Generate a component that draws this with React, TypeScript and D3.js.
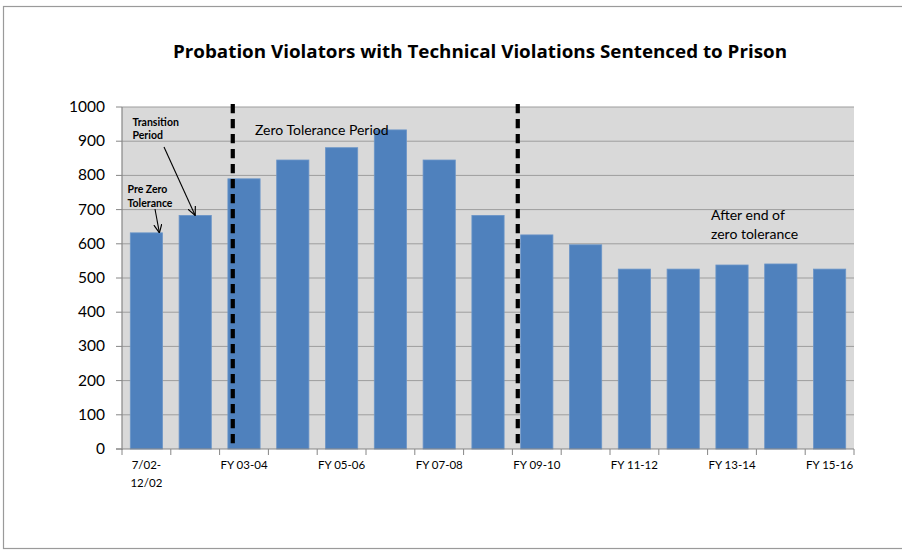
import React from "react";
import * as d3 from "d3";

const categories = [
  "7/02-12/02", "1/03-6/03", "FY 03-04", "FY 04-05", "FY 05-06", "FY 06-07",
  "FY 07-08", "FY 08-09", "FY 09-10", "FY 10-11", "FY 11-12", "FY 12-13",
  "FY 13-14", "FY 14-15", "FY 15-16",
];
const values = [632, 683, 790, 845, 881, 933, 845, 683, 626, 597, 526, 526, 538, 541, 526];
const shownLabels = ["7/02-12/02", "FY 03-04", "FY 05-06", "FY 07-08", "FY 09-10", "FY 11-12", "FY 13-14", "FY 15-16"];
const yTicks = [0, 100, 200, 300, 400, 500, 600, 700, 800, 900, 1000];
// period dividers, in category units (0 = left edge of first category)
const dividers = [2.27, 8.11];

const W = 902, H = 550;
const left = 122, right = 854, top = 107, bottom = 449;
const FONT = "Lato, 'Open Sans', sans-serif";

export default function App() {
  const x = d3.scaleBand<string>().domain(categories).range([left, right]).paddingInner(0.34).paddingOuter(0.17);
  const xu = d3.scaleLinear().domain([0, categories.length]).range([left, right]);
  const y = d3.scaleLinear().domain([0, 1000]).range([bottom, top]);

  const labelLines = (s: string) => (s.includes("/") ? s.replace("-", "-\n").split("\n") : [s]);

  return (
    <svg width={W} height={H} style={{ position: "absolute", left: 0, top: 0, background: "#fff" }} fontFamily={FONT}>
      <defs>
        <marker id="arr" viewBox="0 0 10 10" refX="9.5" refY="5" markerWidth="9" markerHeight="9" markerUnits="userSpaceOnUse" orient="auto">
          <path d="M0,0.5 L9.5,5 L0,9.5" fill="none" stroke="#000" strokeWidth={1.3} />
        </marker>
      </defs>
      <rect x={3.5} y={6.5} width={W + 10} height={542} fill="#fff" stroke="#9a9a9a" strokeWidth={1.2} />
      <text x={480} y={58} textAnchor="middle" fontSize={17} fontWeight="bold" fill="#000"
        fontFamily="'Open Sans', sans-serif" textLength={614} lengthAdjust="spacingAndGlyphs">
        Probation Violators with Technical Violations Sentenced to Prison
      </text>
      <rect x={left} y={top} width={right - left} height={bottom - top} fill="#d9d9d9" />
      {yTicks.map((t) => (
        <g key={t}>
          {t > 0 && <line x1={left} x2={right} y1={y(t)} y2={y(t)} stroke="#9d9d9d" strokeWidth={1} />}
          <line x1={left - 6} x2={left} y1={y(t)} y2={y(t)} stroke="#868686" strokeWidth={1} />
          <text x={105} y={y(t) + 5} textAnchor="end" fontSize={15.5} fill="#000">{t}</text>
        </g>
      ))}
      {categories.map((c, i) => (
        <rect key={c} x={x(c)} y={y(values[i])} width={x.bandwidth()} height={y(0) - y(values[i])}
          fill="#4f81bd" stroke="#6b95c8" strokeWidth={0.8} />
      ))}
      <line x1={left} x2={left} y1={top} y2={bottom + 1} stroke="#868686" strokeWidth={1.2} />
      <line x1={left - 6} x2={right} y1={bottom} y2={bottom} stroke="#868686" strokeWidth={1.2} />
      {d3.range(categories.length + 1).map((i) => (
        <line key={i} x1={xu(i)} x2={xu(i)} y1={bottom} y2={bottom + 6} stroke="#868686" strokeWidth={1} />
      ))}
      {shownLabels.map((c) => {
        const lines = labelLines(c);
        const cx = (x(c) as number) + x.bandwidth() / 2;
        return (
          <text key={c} x={cx} y={469} textAnchor="middle" fontSize={11.5} fill="#000">
            {lines.map((l, k) => (
              <tspan key={k} x={cx} dy={k === 0 ? 0 : 18}>{l}</tspan>
            ))}
          </text>
        );
      })}
      {dividers.map((d, i) => (
        <line key={i} x1={xu(d)} x2={xu(d)} y1={104} y2={bottom} stroke="#000" strokeWidth={4.2} strokeDasharray="9.3 5.7" />
      ))}
      <text x={255} y={135} fontSize={14} fill="#000">Zero Tolerance Period</text>
      <text x={711} y={220} fontSize={14} fill="#000">
        <tspan x={711}>After end of</tspan>
        <tspan x={711} dy={18.5}>zero tolerance</tspan>
      </text>
      <text x={132.5} y={125.5} fontSize={10.5} fontWeight="bold" fill="#000">
        <tspan x={132.5}>Transition</tspan>
        <tspan x={132.5} dy={13.7}>Period</tspan>
      </text>
      <text x={127.5} y={193.3} fontSize={10.5} fontWeight="bold" fill="#000">
        <tspan x={127.5}>Pre Zero</tspan>
        <tspan x={127.5} dy={13.4}>Tolerance</tspan>
      </text>
      <line x1={164} y1={147} x2={(x(categories[1]) as number) + x.bandwidth() / 2} y2={y(values[1])} stroke="#000" strokeWidth={1.1} markerEnd="url(#arr)" />
      <line x1={155} y1={209} x2={(x(categories[0]) as number) + x.bandwidth() / 2 + 13} y2={y(values[0])} stroke="#000" strokeWidth={1.1} markerEnd="url(#arr)" />
    </svg>
  );
}
